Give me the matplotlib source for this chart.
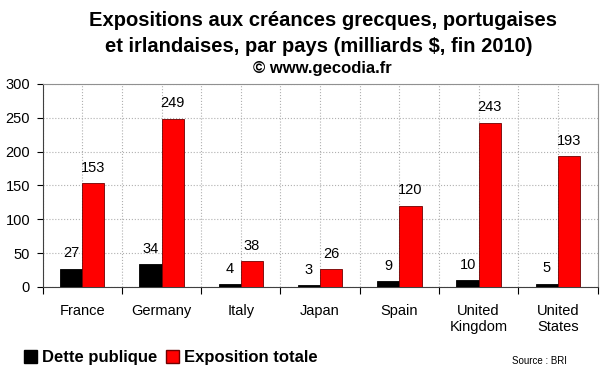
import numpy as np
import matplotlib.pyplot as plt
from matplotlib.patches import Patch

plt.rcParams['font.family'] = ['Liberation Sans', 'DejaVu Sans']

pays = ["France", "Germany", "Italy", "Japan", "Spain", "United\nKingdom", "United\nStates"]
dette_publique = [27, 34, 4, 3, 9, 10, 5]
exposition_totale = [153, 249, 38, 26, 120, 243, 193]
yticks = [0, 50, 100, 150, 200, 250, 300]

fig = plt.figure(figsize=(6, 3.72), dpi=100)
ax = fig.add_axes([0.071, 0.2285, 0.925, 0.5457])

x = np.arange(len(pays))
w = 0.28
b1 = ax.bar(x - w / 2, dette_publique, w, color='black', edgecolor='black', linewidth=0.6, zorder=3)
b2 = ax.bar(x + w / 2, exposition_totale, w, color='#ff0000', edgecolor='#700000', linewidth=0.6, zorder=3)

for bars, vals in ((b1, dette_publique), (b2, exposition_totale)):
    for r, v in zip(bars, vals):
        ax.annotate(str(v), xy=(r.get_x() + r.get_width() / 2, v), xytext=(0, 6),
                    textcoords='offset points', ha='center', va='bottom', fontsize=10.5)

ax.set_xlim(-0.5, len(pays) - 0.5)
ax.set_ylim(0, 300)
ax.set_yticks(yticks)
ax.tick_params(axis='y', labelsize=10.5, length=4, width=0.8, pad=5)

ax.set_xticks(x)
ax.set_xticklabels(pays, fontsize=10.5)
ax.set_xticks(np.arange(len(pays) + 1) - 0.5, minor=True)
ax.tick_params(axis='x', which='major', length=0, pad=12)
ax.tick_params(axis='x', which='minor', length=5, width=0.8)

ax.set_axisbelow(True)
ax.yaxis.grid(True, linestyle=':', color='#b0b0b0', linewidth=0.8)
for xv in np.arange(-0.5, len(pays), 0.5):
    ax.axvline(xv, linestyle=':', color='#b0b0b0', linewidth=0.8, zorder=0)

for s in ('left', 'bottom'):
    ax.spines[s].set_color('#404040')
for s in ('top', 'right'):
    ax.spines[s].set_color('#909090')

fig.text(0.538, 0.944, "Expositions aux créances grecques, portugaises", ha='center', va='center',
         fontsize=14.5, fontweight='bold')
fig.text(0.532, 0.876, "et irlandaises, par pays (milliards $, fin 2010)", ha='center', va='center',
         fontsize=14.5, fontweight='bold')
fig.text(0.537, 0.815, "© www.gecodia.fr", ha='center', va='center', fontsize=12, fontweight='bold')

handles = [Patch(facecolor='black', edgecolor='black'), Patch(facecolor='#ff0000', edgecolor='#700000')]
fig.legend(handles, ["Dette publique", "Exposition totale"], loc='center left', bbox_to_anchor=(0.04, 0.038),
           ncol=2, frameon=False, prop={'weight': 'bold', 'size': 12}, handlelength=0.8, handleheight=0.8,
           handletextpad=0.3, columnspacing=0.5, borderpad=0, borderaxespad=0)
fig.text(0.853, 0.03, "Source : BRI", ha='left', va='center', fontsize=7)

fig.savefig('out.png', dpi=100)
